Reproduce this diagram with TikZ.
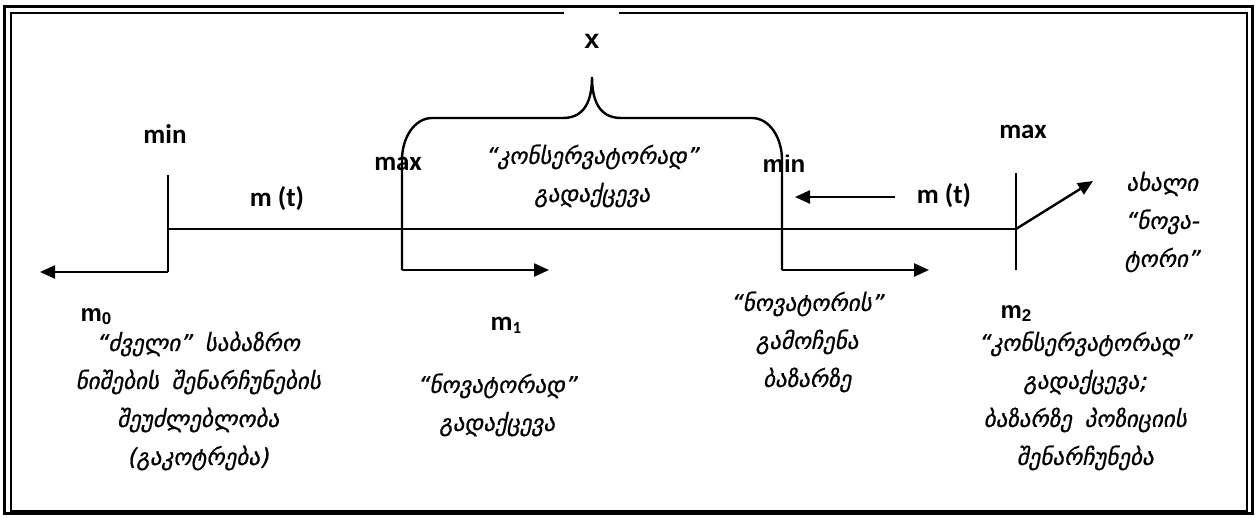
\documentclass[tikz,border=0pt]{standalone}
\usepackage{fontspec}
\usetikzlibrary{arrows.meta}
\newfontfamily\geofont[FakeSlant=0.2,FakeBold=0.8]{DejaVu Sans}
\newfontfamily\califont{Carlito}
\newfontfamily\arifont{Liberation Sans}
\tikzset{
  lbl/.style={inner sep=0pt, font=\califont\bfseries\fontsize{27}{30}\selectfont},
  albl/.style={inner sep=0pt, font=\arifont\bfseries\fontsize{24}{28}\selectfont},
  geo/.style={inner sep=0pt, align=center, font=\geofont\fontsize{23}{38}\selectfont},
  ln/.style={line width=2.4pt},
  arr/.style={line width=2.4pt, -{Triangle[length=15pt,width=13pt]}},
}
\newcommand{\sub}[1]{{\fontsize{17}{17}\selectfont\raisebox{-3pt}{#1}}}
\newcommand{\wsp}{\hspace{0.55em}}
\begin{document}
\begin{tikzpicture}[x=1pt,y=-1pt]
\useasboundingbox (0,0) rectangle (1259,517);
% frame
\draw[line width=3pt] (4.5,6.5) rectangle (1252.5,513.5);
\draw[line width=2pt] (564,12.5) -- (11,12.5) -- (11,510.5) -- (1247,510.5) -- (1247,12.5) -- (619,12.5);

% coordinates
\coordinate (a0) at (168,175);
\coordinate (a1) at (168,272);
\coordinate (a2) at (40,272);
\coordinate (h0) at (168,229);
\coordinate (h1) at (1016,229);
\coordinate (r0) at (1016,173);
\coordinate (r1) at (1016,270);
\coordinate (r2) at (1093,181);
\coordinate (b1) at (402,270);
\coordinate (b1e) at (549,270);
\coordinate (b2) at (782,270);
\coordinate (b2e) at (929,270);
\coordinate (c0) at (895,197);
\coordinate (c1) at (795,197);

% left step
\draw[ln] (a0) -- (a1);
\draw[arr] (a1) -- (a2);
% main line
\draw[ln] (h0) -- (h1);
% right vertical
\draw[ln] (r0) -- (r1);
\draw[arr] (h1) -- (r2);
% brace with legs
\draw[ln] (b1) -- (402,160) .. controls (402,137) and (415,118) .. (432,118)
  -- (563,118) .. controls (585,118) and (592,100) .. (592,77)
  .. controls (592,100) and (599,118) .. (621,118)
  -- (752,118) .. controls (769,118) and (782,137) .. (782,160) -- (b2);
\draw[arr] (b1) -- (b1e);
\draw[arr] (b2) -- (b2e);
\draw[arr] (c0) -- (c1);

% labels
\node[lbl] (min1) at (165,134) {min};
\node[lbl] (mt1) at (277,199) {m (t)};
\node[lbl] (max1) at (398,164) {max};
\node[albl,font=\arifont\bfseries\fontsize{27}{30}\selectfont] (xl) at (592,41) {x};
\node[albl] (min2) at (784,164) {min};
\node[lbl] (mt2) at (944,196) {m (t)};
\node[lbl] (max2) at (1023,132) {max};
\node[albl] (m0) at (96,317) {m\sub{0}};
\node[lbl] (m1) at (506,325) {m\sub{1}};
\node[albl] (m2) at (1016,314) {m\sub{2}};

% Georgian texts
\node[geo] (tx) at (592,176) {“კონსერვატორად”\\გადაქცევა};
\node[geo] (t0) at (198,401) {“ძველი”\wsp საბაზრო\\ნიშების\wsp შენარჩუნების\\შეუძლებლობა\\(გაკოტრება)};
\node[geo] (t1) at (497,405) {“ნოვატორად”\\გადაქცევა};
\node[geo] (t2) at (807,342) {“ნოვატორის”\\გამოჩენა\\ბაზარზე};
\node[geo] (t3) at (1085,401) {“კონსერვატორად”\\გადაქცევა;\\ბაზარზე\wsp პოზიციის\\შენარჩუნება};
\node[geo] (t4) at (1162,222) {ახალი\\“ნოვა-\\ტორი”};
\end{tikzpicture}
\end{document}
